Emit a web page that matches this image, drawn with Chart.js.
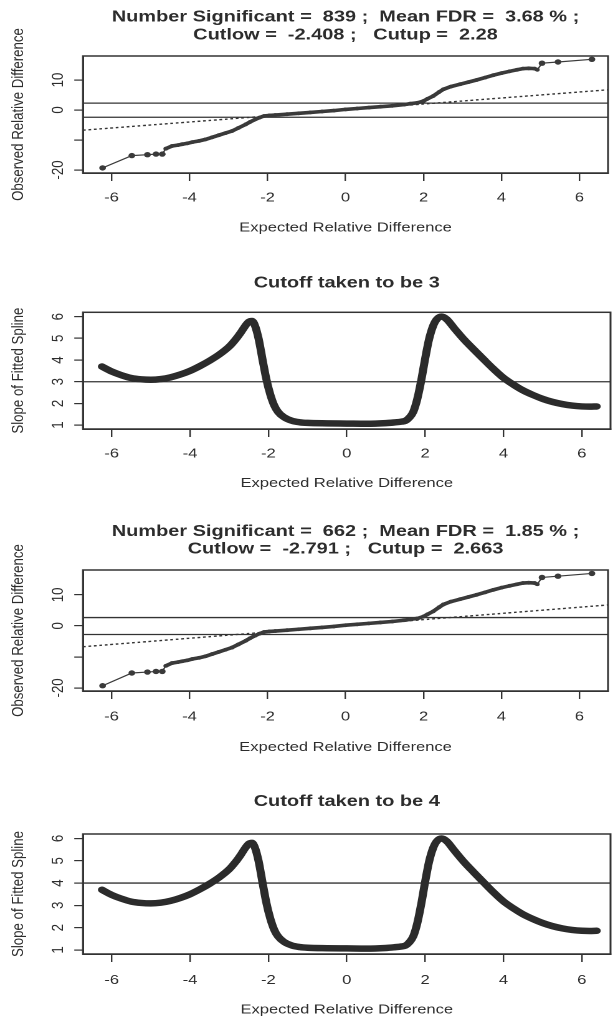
<!DOCTYPE html>
<html>
<head>
<meta charset="utf-8">
<script src="https://cdn.jsdelivr.net/npm/chart.js@4.4.1/dist/chart.umd.min.js"></script>
<style>
  html, body { margin:0; padding:0; background:#ffffff; width:613px; height:1021px; overflow:hidden; }
  .panel { position:absolute; left:0; width:492px; transform-origin:0 0; transform:scaleX(1.24594); }
  .panel canvas { display:block; }
</style>
</head>
<body>
<div class="panel" style="top:0px;height:250px"><canvas id="c1" width="492" height="250" style="width:492px;height:250px"></canvas></div>
<div class="panel" style="top:250px;height:256px"><canvas id="c2" width="492" height="256" style="width:492px;height:256px"></canvas></div>
<div class="panel" style="top:510px;height:258px"><canvas id="c3" width="492" height="258" style="width:492px;height:258px"></canvas></div>
<div class="panel" style="top:770px;height:261px"><canvas id="c4" width="492" height="261" style="width:492px;height:261px"></canvas></div>
<script>
// ---------------- data ----------------
const xTicks = [-6, -4, -2, 0, 2, 4, 6];
const xTickLabels = ['-6', '-4', '-2', '0', '2', '4', '6'];
const xRange = [-6.733, 6.733];

const obsTicks = [-20, -10, 0, 10];
const obsTickLabels = ['-20', '', '0', '10'];
const obsRange = [-21, 18];

const slopeTicks = [1, 2, 3, 4, 5, 6];
const slopeTickLabels = ['1', '2', '3', '4', '5', '6'];
const slopeRange = [0.82, 6.2];

// observed vs expected relative difference (panels 1 and 3)
const expectedRD = [-6.23,-5.48,-5.08,-4.86,-4.70,-4.61,-4.45,-4.30,-4.19,-4.05,-3.93,-3.75,-3.59,-3.42,-3.25,-3.08,-2.91,-2.75,-2.56,-2.45,-2.31,-2.20,-2.09,-1.95,-1.80,-1.50,-1.20,-0.90,-0.60,-0.30,0.00,0.30,0.60,0.90,1.20,1.50,1.66,1.85,2.00,2.10,2.25,2.40,2.51,2.70,2.94,3.15,3.36,3.58,3.79,4.00,4.21,4.40,4.55,4.70,4.85,4.92,5.04,5.45,6.32];
const observedRD = [-19.3,-15.2,-14.9,-14.7,-14.7,-12.9,-12.0,-11.7,-11.4,-11.1,-10.7,-10.3,-9.8,-9.1,-8.4,-7.7,-7.0,-6.0,-4.8,-4.0,-3.1,-2.5,-2.0,-1.8,-1.67,-1.4,-1.1,-0.8,-0.5,-0.2,0.2,0.5,0.8,1.1,1.4,1.8,2.1,2.4,3.0,3.7,4.67,6.0,6.9,7.8,8.6,9.3,10.0,10.8,11.6,12.3,12.9,13.4,13.8,13.9,13.8,13.4,15.6,16.0,16.9];

// slope of fitted spline (panels 2 and 4)
const splineX = [-6.25,-6.0,-5.75,-5.5,-5.25,-5.0,-4.75,-4.5,-4.25,-4.0,-3.75,-3.5,-3.25,-3.0,-2.85,-2.7,-2.6,-2.5,-2.42,-2.35,-2.25,-2.15,-2.05,-1.95,-1.85,-1.75,-1.6,-1.4,-1.2,-1.0,-0.5,0,0.5,1.0,1.2,1.4,1.5,1.6,1.7,1.8,1.9,2.0,2.1,2.2,2.3,2.42,2.55,2.75,3.0,3.25,3.5,3.75,4.0,4.25,4.5,4.75,5.0,5.25,5.5,5.75,6.0,6.2,6.38];
const splineSlope = [3.70,3.47,3.30,3.17,3.11,3.09,3.12,3.20,3.33,3.50,3.72,3.97,4.26,4.62,4.92,5.28,5.55,5.76,5.80,5.62,4.98,4.02,3.10,2.40,1.90,1.60,1.36,1.20,1.13,1.10,1.08,1.07,1.06,1.09,1.12,1.16,1.20,1.35,1.62,2.20,3.05,4.05,4.95,5.55,5.88,6.00,5.88,5.45,4.93,4.47,4.02,3.58,3.18,2.87,2.60,2.39,2.21,2.07,1.97,1.90,1.86,1.85,1.86];

const title1 = ['Number Significant =  839 ;  Mean FDR =  3.68 % ;', 'Cutlow =  -2.408 ;   Cutup =  2.28'];
const cuts1 = [2.28, -2.408];
const title3 = ['Number Significant =  662 ;  Mean FDR =  1.85 % ;', 'Cutlow =  -2.791 ;   Cutup =  2.663'];
const cuts3 = [2.663, -2.791];
const cutoffTitles = ['Cutoff taken to be 3', 'Cutoff taken to be 4'];
const cutoffValues = [3, 4];

const xTitle = 'Expected Relative Difference';
const obsTitle = 'Observed Relative Difference';
const slopeTitle = 'Slope of Fitted Spline';

// ---------------- styling ----------------
const FONT = '"Liberation Sans", Arial, Helvetica, sans-serif';
const TXT = '#2c2c2c';
const LINE = '#333333';
const MARK = '#3a3a3a';
Chart.defaults.font.family = FONT;

const boxPlugin = {
  id: 'rbox',
  afterDatasetsDraw(chart) {
    const { ctx, chartArea: a } = chart;
    ctx.save();
    ctx.strokeStyle = LINE;
    ctx.lineWidth = 1.5;
    ctx.strokeRect(a.left, a.top, a.right - a.left, a.bottom - a.top);
    ctx.restore();
  }
};

function hLine(v, dash, width) {
  return {
    data: [{ x: xRange[0], y: v }, { x: xRange[1], y: v }],
    showLine: true, pointRadius: 0, borderColor: LINE, borderWidth: width || 1.3,
    borderDash: dash || [], order: 3
  };
}

function isDense(x) { return x > -4.65 && x < 4.96; }

function scatterSet() {
  return {
    data: expectedRD.map((x, i) => ({ x: x, y: observedRD[i] })),
    showLine: true,
    borderColor: MARK,
    backgroundColor: MARK,
    borderWidth: 1.2,
    pointBorderWidth: 0,
    pointRadius: ctx => (ctx.parsed && isDense(ctx.parsed.x)) ? 1.9 : 2.7,
    segment: {
      borderWidth: ctx => (isDense(ctx.p0.parsed.x) && isDense(ctx.p1.parsed.x)) ? 3.6 : 1.2
    },
    order: 1
  };
}

function diagSet() {
  return {
    data: [{ x: xRange[0], y: xRange[0] }, { x: xRange[1], y: xRange[1] }],
    showLine: true, pointRadius: 0, borderColor: LINE, borderWidth: 1.4,
    borderDash: [2.2, 2.2], order: 2
  };
}

function splineSet() {
  return {
    data: splineX.map((x, i) => ({ x: x, y: splineSlope[i] })),
    showLine: true, pointRadius: 0, borderColor: '#2b2b2b', borderWidth: 6.5,
    cubicInterpolationMode: 'monotone', borderCapStyle: 'round', borderJoinStyle: 'round',
    order: 1
  };
}

function makeChart(id, p) {
  const canvas = document.getElementById(id);
  return new Chart(canvas, {
    type: 'scatter',
    data: { datasets: p.datasets },
    plugins: [boxPlugin],
    options: {
      responsive: false,
      animation: false,
      devicePixelRatio: 2,
      layout: { padding: { left: 0, right: 2, top: 0, bottom: 0 } },
      plugins: {
        legend: { display: false },
        tooltip: { enabled: false },
        title: {
          display: true, text: p.title, fullSize: false, color: TXT,
          font: { family: FONT, size: 16, weight: 'bold', lineHeight: '17.6px' },
          padding: { top: p.tPad[0], bottom: p.tPad[1] }
        }
      },
      scales: {
        x: {
          type: 'linear', position: 'bottom', min: xRange[0], max: xRange[1],
          afterBuildTicks: s => { s.ticks = xTicks.map(v => ({ value: v })); },
          afterFit: s => { s.height = 77; },
          ticks: {
            color: TXT, font: { family: FONT, size: 13.25 }, padding: p.xTickPad,
            maxRotation: 0, minRotation: 0, autoSkip: false,
            callback: (v, i) => xTickLabels[i]
          },
          grid: { drawOnChartArea: false, drawTicks: true, tickLength: 8, color: LINE, lineWidth: 1.2 },
          border: { display: true, color: LINE, width: 1.5 },
          title: {
            display: true, text: xTitle, color: TXT,
            font: { family: FONT, size: 13.25, lineHeight: 1.2 },
            padding: { top: 0, bottom: p.xTitlePad }
          }
        },
        y: {
          type: 'linear', position: 'left', min: p.yRange[0], max: p.yRange[1],
          afterBuildTicks: s => { s.ticks = p.yTicks.map(v => ({ value: v })); },
          afterFit: s => { s.width = 66.6; },
          ticks: {
            color: TXT, font: { family: FONT, size: 13.25 }, padding: p.yTickPad,
            minRotation: 90, maxRotation: 90, crossAlign: 'center', autoSkip: false,
            callback: (v, i) => p.yLabels[i]
          },
          grid: { drawOnChartArea: false, drawTicks: true, tickLength: 7, color: LINE, lineWidth: 1.2 },
          border: { display: true, color: LINE, width: 1.5 },
          title: {
            display: true, text: p.yTitle, color: TXT,
            font: { family: FONT, size: 13.25, lineHeight: 1.2 },
            padding: { top: 6.75, bottom: 0 }
          }
        }
      }
    }
  });
}

makeChart('c1', {
  title: title1, tPad: [8.5, 12.3],
  yRange: obsRange, yTicks: obsTicks, yLabels: obsTickLabels, yTickPad: 3.2, yTitle: obsTitle,
  xTickPad: 8.75, xTitlePad: 14.05,
  datasets: [hLine(cuts1[0]), hLine(cuts1[1]), diagSet(), scatterSet()]
});
makeChart('c2', {
  title: cutoffTitles[0], tPad: [24.2, 20.5],
  yRange: slopeRange, yTicks: slopeTicks, yLabels: slopeTickLabels, yTickPad: 9.1, yTitle: slopeTitle,
  xTickPad: 9.05, xTitlePad: 14.75,
  datasets: [hLine(cutoffValues[0]), splineSet()]
});
makeChart('c3', {
  title: title3, tPad: [12.7, 12.1],
  yRange: obsRange, yTicks: obsTicks, yLabels: obsTickLabels, yTickPad: 3.2, yTitle: obsTitle,
  xTickPad: 9.75, xTitlePad: 12.75,
  datasets: [hLine(cuts3[0]), hLine(cuts3[1]), diagSet(), scatterSet()]
});
makeChart('c4', {
  title: cutoffTitles[1], tPad: [22.9, 23.5],
  yRange: slopeRange, yTicks: slopeTicks, yLabels: slopeTickLabels, yTickPad: 9.1, yTitle: slopeTitle,
  xTickPad: 10.35, xTitlePad: 13.05,
  datasets: [hLine(cutoffValues[1]), splineSet()]
});
</script>
</body>
</html>
